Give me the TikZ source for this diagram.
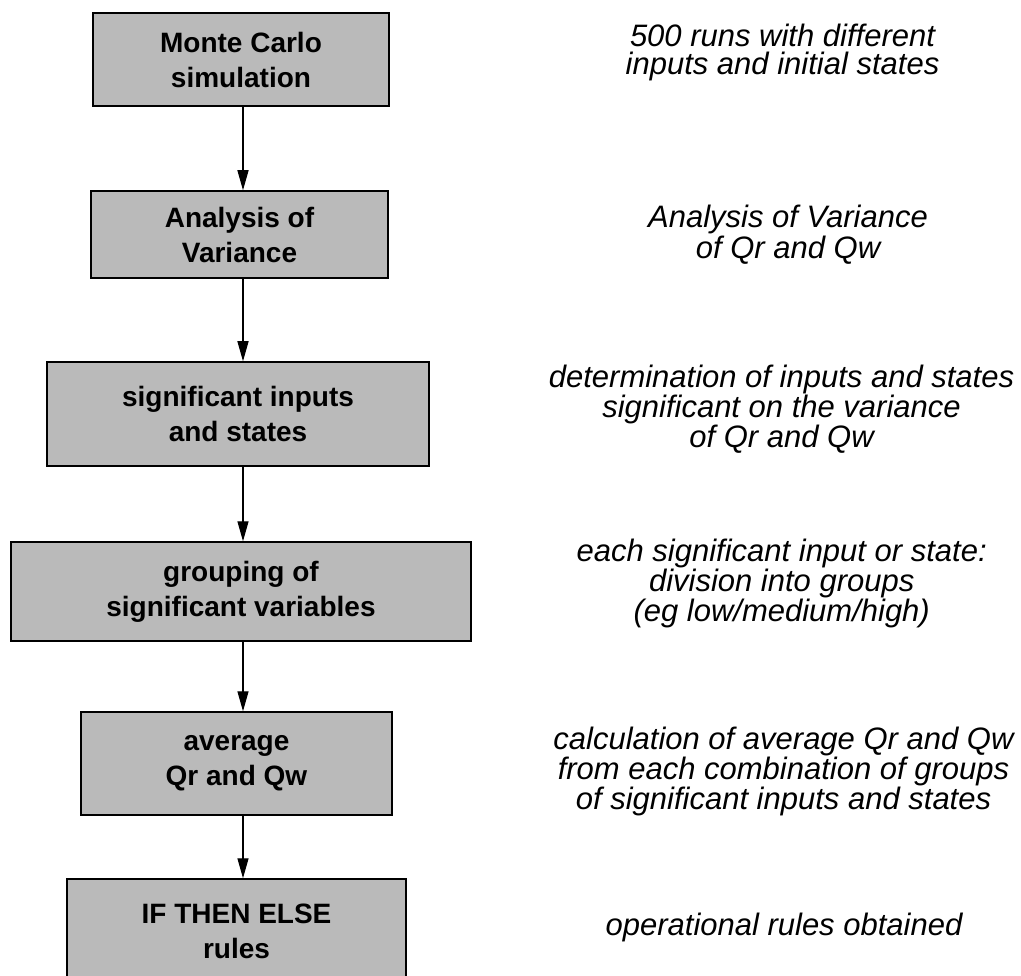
\documentclass[tikz,border=0pt]{standalone}
\usepackage{fontspec}
\setmainfont{Liberation Sans}
\usetikzlibrary{arrows.meta}
\begin{document}
\begin{tikzpicture}[x=1pt,y=-1pt,
  box/.style={draw=black, line width=1.5pt, fill=black!27, inner sep=0pt,
    align=center, font=\bfseries\fontsize{28}{35}\selectfont},
  note/.style={align=center, inner sep=0pt},
  flow/.style={-{Triangle[length=20pt,width=11pt]}, line width=1.4pt}]
\useasboundingbox (0,0) rectangle (1021,976);
\clip (0,0) rectangle (1021,976);
\coordinate (ax) at (243,0);
% boxes
\node[box, minimum width=296pt, minimum height=93pt] (b1) at (241,59.5) {Monte Carlo\\simulation};
\node[box, minimum width=297pt, minimum height=87pt] (b2) at (239.5,234.5) {Analysis of\\Variance};
\node[box, minimum width=382pt, minimum height=104pt] (b3) at (238,414) {significant inputs\\and states};
\node[box, minimum width=460pt, minimum height=99pt] (b4) at (241,591.5) {grouping of\\significant variables};
\node[box, minimum width=311pt, minimum height=103pt] (b5) at (236.5,763.5) {average\\Qr and Qw};
\node[box, minimum width=339pt, minimum height=105pt] (b6) at (236.5,931.5) {IF THEN ELSE\\rules};
% connectors
\draw[flow] (b1.south -| ax) -- (b2.north -| ax);
\draw[flow] (b2.south -| ax) -- (b3.north -| ax);
\draw[flow] (b3.south -| ax) -- (b4.north -| ax);
\draw[flow] (b4.south -| ax) -- (b5.north -| ax);
\draw[flow] (b5.south -| ax) -- (b6.north -| ax);
% notes
\node[note, font=\itshape\fontsize{31}{28.5}\selectfont] (n1) at (782.5,52.3) {500 runs with different\\inputs and initial states};
\node[note, font=\itshape\fontsize{31}{30.5}\selectfont] (n2) at (788,234.8) {Analysis of Variance\\of Qr and Qw};
\node[note, font=\itshape\fontsize{31}{28.5}\selectfont] (n3) at (781.5,409) {determination of inputs and states\\significant on the variance\\of Qr and Qw};
\node[note, font=\itshape\fontsize{31}{28.5}\selectfont] (n4) at (781.7,583.6) {each significant input or state:\\division into groups\\(eg low/medium/high)};
\node[note, font=\itshape\fontsize{31}{28}\selectfont] (n5) at (783.5,771.5) {calculation of average Qr and Qw\\from each combination of groups\\of significant inputs and states};
\node[note, font=\itshape\fontsize{31}{28.5}\selectfont] (n6) at (784,927) {operational rules obtained};
\end{tikzpicture}
\end{document}
